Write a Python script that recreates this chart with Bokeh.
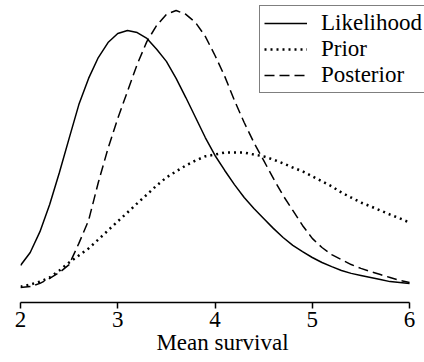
from bokeh.plotting import figure
from bokeh.models import Range1d, FixedTicker, Legend, LegendItem
from bokeh.embed import file_html
from bokeh.resources import INLINE

# Mean survival grid
mean_survival = [2.0, 2.1, 2.2, 2.3, 2.4, 2.5, 2.6, 2.7, 2.8, 2.9,
                 3.0, 3.1, 3.2, 3.3, 3.4, 3.5, 3.6, 3.7, 3.8, 3.9,
                 4.0, 4.1, 4.2, 4.3, 4.4, 4.5, 4.6, 4.7, 4.8, 4.9,
                 5.0, 5.1, 5.2, 5.3, 5.4, 5.5, 5.6, 5.7, 5.8, 5.9, 6.0]

likelihood = [0.126, 0.170, 0.241, 0.333, 0.442, 0.558, 0.673, 0.762, 0.833, 0.884,
              0.915, 0.925, 0.918, 0.898, 0.861, 0.820, 0.762, 0.697, 0.629, 0.561,
              0.500, 0.449, 0.401, 0.357, 0.320, 0.286, 0.252, 0.221, 0.194, 0.173,
              0.153, 0.136, 0.122, 0.109, 0.099, 0.092, 0.085, 0.078, 0.071, 0.068, 0.065]

prior = [0.054, 0.061, 0.071, 0.085, 0.109, 0.136, 0.160, 0.184, 0.214, 0.245,
         0.276, 0.306, 0.337, 0.367, 0.398, 0.425, 0.446, 0.466, 0.483, 0.497,
         0.503, 0.510, 0.510, 0.510, 0.503, 0.497, 0.486, 0.473, 0.459, 0.446,
         0.429, 0.412, 0.395, 0.374, 0.357, 0.340, 0.327, 0.313, 0.299, 0.286, 0.272]

posterior = [0.051, 0.054, 0.065, 0.082, 0.102, 0.129, 0.201, 0.279, 0.408, 0.524,
             0.626, 0.718, 0.810, 0.888, 0.942, 0.980, 0.993, 0.980, 0.952, 0.905,
             0.840, 0.769, 0.687, 0.612, 0.544, 0.483, 0.422, 0.364, 0.313, 0.262,
             0.218, 0.187, 0.163, 0.146, 0.129, 0.116, 0.105, 0.095, 0.085, 0.075, 0.068]

x_ticks = [2, 3, 4, 5, 6]
x_title = "Mean survival"
labels = ["Likelihood", "Prior", "Posterior"]

FONT = "Liberation Serif"

# frame runs to the right page edge; the axis itself is bounded to 2..6
p = figure(width=424, height=362, output_backend="svg", toolbar_location=None,
           x_range=Range1d(2, 6.154), y_range=Range1d(0, 1.027),
           min_border_left=20, min_border_right=0, min_border_top=0,
           min_border_bottom=60)

r1 = p.line(mean_survival, likelihood, line_color="black", line_width=1.5)
r2 = p.line(mean_survival, prior, line_color="black", line_width=2.5, line_dash="2 4")
r3 = p.line(mean_survival, posterior, line_color="black", line_width=1.5, line_dash="10 5")

p.yaxis.visible = False
p.grid.visible = False
p.outline_line_color = None
p.background_fill_color = "white"

ax = p.xaxis[0]
ax.bounds = (2, 6)
ax.ticker = FixedTicker(ticks=x_ticks)
ax.axis_label = x_title
ax.axis_label_text_font = FONT
ax.axis_label_text_font_size = "23px"
ax.axis_label_text_font_style = "normal"
ax.axis_label_text_color = "black"
ax.axis_label_standoff = 0
ax.major_label_text_font = FONT
ax.major_label_text_font_size = "23px"
ax.major_label_text_color = "black"
ax.major_label_standoff = 3
ax.axis_line_color = "black"
ax.axis_line_width = 1.5
ax.major_tick_line_color = "black"
ax.major_tick_line_width = 1.5
ax.major_tick_out = 6
ax.major_tick_in = 0
ax.minor_tick_line_color = None

legend = Legend(items=[LegendItem(label=labels[0], renderers=[r1]),
                       LegendItem(label=labels[1], renderers=[r2]),
                       LegendItem(label=labels[2], renderers=[r3])],
                location=(239, 209))
legend.label_text_font = FONT
legend.label_text_font_size = "23px"
legend.label_text_color = "black"
legend.glyph_width = 43
legend.glyph_height = 20
legend.label_height = 20
legend.label_standoff = 14
legend.spacing = 0
legend.padding = 4
legend.margin = 0
legend.border_line_color = "black"
legend.border_line_width = 1.2
legend.background_fill_alpha = 1.0
p.add_layout(legend, "center")

open("out.html", "w").write(file_html(p, INLINE))
